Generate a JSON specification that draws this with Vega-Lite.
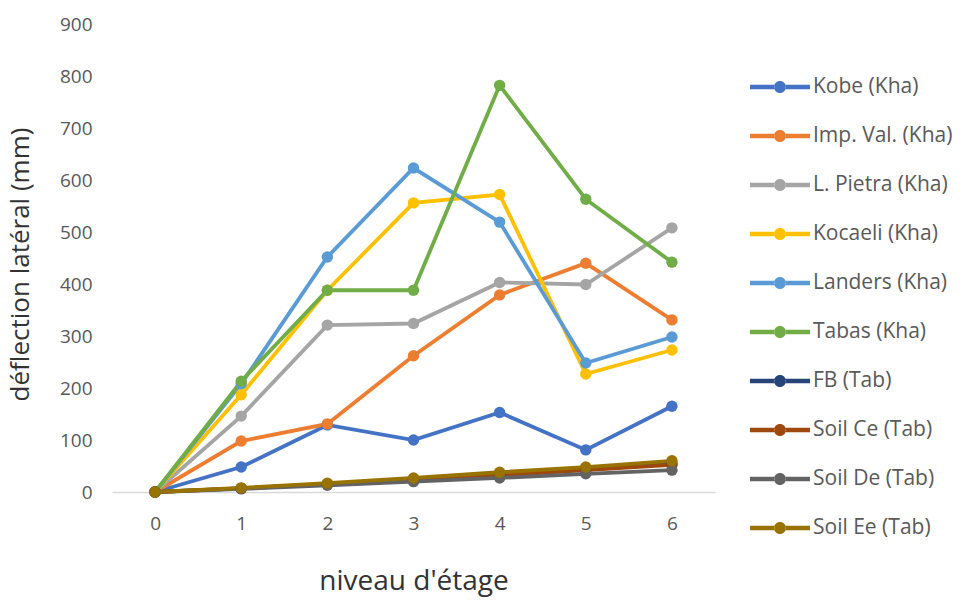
{
  "$schema": "https://vega.github.io/schema/vega-lite/v6.json",
  "width": 603,
  "height": 468,
  "autosize": "none",
  "padding": {"left": 112, "top": 24, "right": 256, "bottom": 108},
  "background": "white",
  "config": {
    "font": "Open Sans",
    "view": {"stroke": null}
  },
  "data": {
    "values": [
      {"serie": "Kobe (Kha)", "etage": 0, "deflection": 0},
      {"serie": "Kobe (Kha)", "etage": 1, "deflection": 48},
      {"serie": "Kobe (Kha)", "etage": 2, "deflection": 129},
      {"serie": "Kobe (Kha)", "etage": 3, "deflection": 100},
      {"serie": "Kobe (Kha)", "etage": 4, "deflection": 153},
      {"serie": "Kobe (Kha)", "etage": 5, "deflection": 81},
      {"serie": "Kobe (Kha)", "etage": 6, "deflection": 165},
      {"serie": "Imp. Val. (Kha)", "etage": 0, "deflection": 0},
      {"serie": "Imp. Val. (Kha)", "etage": 1, "deflection": 98},
      {"serie": "Imp. Val. (Kha)", "etage": 2, "deflection": 131},
      {"serie": "Imp. Val. (Kha)", "etage": 3, "deflection": 262},
      {"serie": "Imp. Val. (Kha)", "etage": 4, "deflection": 379},
      {"serie": "Imp. Val. (Kha)", "etage": 5, "deflection": 440},
      {"serie": "Imp. Val. (Kha)", "etage": 6, "deflection": 331},
      {"serie": "L. Pietra (Kha)", "etage": 0, "deflection": 0},
      {"serie": "L. Pietra (Kha)", "etage": 1, "deflection": 146},
      {"serie": "L. Pietra (Kha)", "etage": 2, "deflection": 321},
      {"serie": "L. Pietra (Kha)", "etage": 3, "deflection": 324},
      {"serie": "L. Pietra (Kha)", "etage": 4, "deflection": 403},
      {"serie": "L. Pietra (Kha)", "etage": 5, "deflection": 399},
      {"serie": "L. Pietra (Kha)", "etage": 6, "deflection": 508},
      {"serie": "Kocaeli (Kha)", "etage": 0, "deflection": 0},
      {"serie": "Kocaeli (Kha)", "etage": 1, "deflection": 187},
      {"serie": "Kocaeli (Kha)", "etage": 2, "deflection": 388},
      {"serie": "Kocaeli (Kha)", "etage": 3, "deflection": 556},
      {"serie": "Kocaeli (Kha)", "etage": 4, "deflection": 572},
      {"serie": "Kocaeli (Kha)", "etage": 5, "deflection": 227},
      {"serie": "Kocaeli (Kha)", "etage": 6, "deflection": 273},
      {"serie": "Landers (Kha)", "etage": 0, "deflection": 0},
      {"serie": "Landers (Kha)", "etage": 1, "deflection": 208},
      {"serie": "Landers (Kha)", "etage": 2, "deflection": 452},
      {"serie": "Landers (Kha)", "etage": 3, "deflection": 623},
      {"serie": "Landers (Kha)", "etage": 4, "deflection": 519},
      {"serie": "Landers (Kha)", "etage": 5, "deflection": 248},
      {"serie": "Landers (Kha)", "etage": 6, "deflection": 298},
      {"serie": "Tabas (Kha)", "etage": 0, "deflection": 0},
      {"serie": "Tabas (Kha)", "etage": 1, "deflection": 213},
      {"serie": "Tabas (Kha)", "etage": 2, "deflection": 388},
      {"serie": "Tabas (Kha)", "etage": 3, "deflection": 388},
      {"serie": "Tabas (Kha)", "etage": 4, "deflection": 782},
      {"serie": "Tabas (Kha)", "etage": 5, "deflection": 563},
      {"serie": "Tabas (Kha)", "etage": 6, "deflection": 442},
      {"serie": "FB (Tab)", "etage": 0, "deflection": 0},
      {"serie": "FB (Tab)", "etage": 1, "deflection": 7},
      {"serie": "FB (Tab)", "etage": 2, "deflection": 15},
      {"serie": "FB (Tab)", "etage": 3, "deflection": 24},
      {"serie": "FB (Tab)", "etage": 4, "deflection": 33},
      {"serie": "FB (Tab)", "etage": 5, "deflection": 43},
      {"serie": "FB (Tab)", "etage": 6, "deflection": 55},
      {"serie": "Soil Ce  (Tab)", "etage": 0, "deflection": 0},
      {"serie": "Soil Ce  (Tab)", "etage": 1, "deflection": 7},
      {"serie": "Soil Ce  (Tab)", "etage": 2, "deflection": 15},
      {"serie": "Soil Ce  (Tab)", "etage": 3, "deflection": 23},
      {"serie": "Soil Ce  (Tab)", "etage": 4, "deflection": 32},
      {"serie": "Soil Ce  (Tab)", "etage": 5, "deflection": 42},
      {"serie": "Soil Ce  (Tab)", "etage": 6, "deflection": 52},
      {"serie": "Soil De  (Tab)", "etage": 0, "deflection": 0},
      {"serie": "Soil De  (Tab)", "etage": 1, "deflection": 6},
      {"serie": "Soil De  (Tab)", "etage": 2, "deflection": 13},
      {"serie": "Soil De  (Tab)", "etage": 3, "deflection": 20},
      {"serie": "Soil De  (Tab)", "etage": 4, "deflection": 27},
      {"serie": "Soil De  (Tab)", "etage": 5, "deflection": 35},
      {"serie": "Soil De  (Tab)", "etage": 6, "deflection": 42},
      {"serie": "Soil Ee  (Tab)", "etage": 0, "deflection": 0},
      {"serie": "Soil Ee  (Tab)", "etage": 1, "deflection": 8},
      {"serie": "Soil Ee  (Tab)", "etage": 2, "deflection": 17},
      {"serie": "Soil Ee  (Tab)", "etage": 3, "deflection": 27},
      {"serie": "Soil Ee  (Tab)", "etage": 4, "deflection": 38},
      {"serie": "Soil Ee  (Tab)", "etage": 5, "deflection": 48},
      {"serie": "Soil Ee  (Tab)", "etage": 6, "deflection": 60}
    ]
  },
  "mark": {
    "type": "line",
    "strokeWidth": 3.8,
    "point": {"filled": true, "size": 130}
  },
  "encoding": {
    "x": {
      "field": "etage",
      "type": "quantitative",
      "scale": {"domain": [-0.5, 6.5], "nice": false, "zero": false},
      "axis": {
        "values": [0, 1, 2, 3, 4, 5, 6],
        "title": "niveau d'étage",
        "grid": false,
        "ticks": false,
        "domain": true,
        "domainColor": "#d9d9d9",
        "domainWidth": 1.5,
        "labelColor": "#595959",
        "labelFontSize": 19,
        "labelPadding": 22,
        "titleFontSize": 28,
        "titleFontWeight": "normal",
        "titleColor": "#333333",
        "titlePadding": 34
      }
    },
    "y": {
      "field": "deflection",
      "type": "quantitative",
      "scale": {"domain": [0, 900], "nice": false},
      "axis": {
        "values": [0, 100, 200, 300, 400, 500, 600, 700, 800, 900],
        "title": "déflection latéral (mm)",
        "grid": false,
        "ticks": false,
        "domain": false,
        "labelColor": "#595959",
        "labelFontSize": 19,
        "labelPadding": 20,
        "titleFontSize": 26,
        "titleFontWeight": "normal",
        "titleColor": "#333333",
        "titlePadding": 26,
        "titleY": 240
      }
    },
    "color": {
      "field": "serie",
      "type": "nominal",
      "sort": null,
      "scale": {
        "domain": ["Kobe (Kha)", "Imp. Val. (Kha)", "L. Pietra (Kha)", "Kocaeli (Kha)", "Landers (Kha)", "Tabas (Kha)", "FB (Tab)", "Soil Ce  (Tab)", "Soil De  (Tab)", "Soil Ee  (Tab)"],
        "range": ["#4472C4", "#ED7D31", "#A5A5A5", "#FFC000", "#5B9BD5", "#70AD47", "#264478", "#9E480E", "#636363", "#997300"]
      },
      "legend": {
        "title": null,
        "orient": "none",
        "legendX": 638,
        "legendY": 33,
        "symbolType": "M-1,-0.075L-0.19,-0.075L-0.19,0.075L-1,0.075Z M0.19,-0.075L1,-0.075L1,0.075L0.19,0.075Z M-0.2,0A0.2,0.2 0 1,0 0.2,0A0.2,0.2 0 1,0 -0.2,0Z",
        "symbolSize": 3600,
        "symbolStrokeWidth": 0,
        "labelFontSize": 21,
        "labelColor": "#595959",
        "labelOffset": 3,
        "rowPadding": 9,
        "encode": {
          "symbols": {
            "update": {
              "fill": {"scale": "color", "field": "value"},
              "strokeWidth": {"value": 0},
              "opacity": {"value": 1}
            }
          }
        }
      }
    }
  }
}
